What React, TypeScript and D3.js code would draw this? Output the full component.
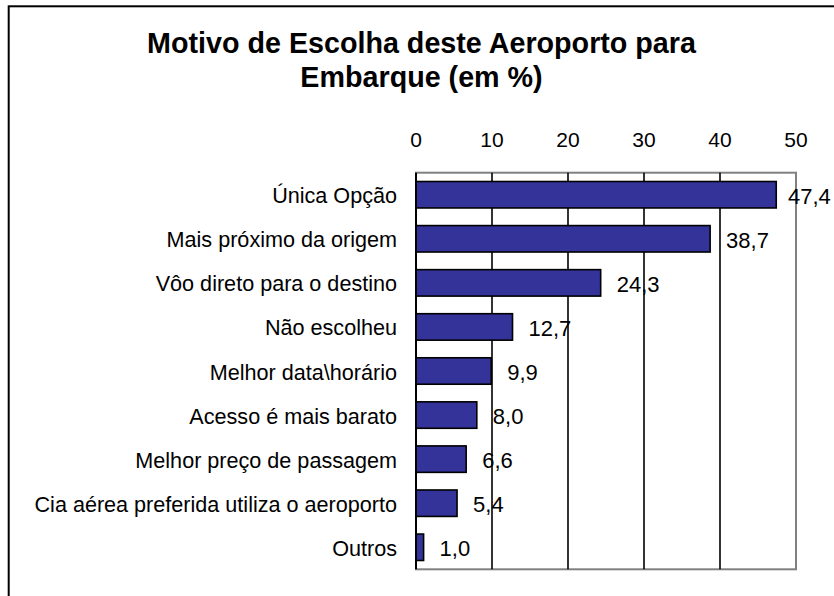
import React from "react";
import * as d3 from "d3";

const categories = [
  "Única Opção",
  "Mais próximo da origem",
  "Vôo direto para o destino",
  "Não escolheu",
  "Melhor data\\horário",
  "Acesso é mais barato",
  "Melhor preço de passagem",
  "Cia aérea preferida utiliza o aeroporto",
  "Outros",
];
const values = [47.4, 38.7, 24.3, 12.7, 9.9, 8.0, 6.6, 5.4, 1.0];
const ticks = [0, 10, 20, 30, 40, 50];
const titleLines = ["Motivo de Escolha deste Aeroporto para", "Embarque (em %)"];

const W = 834;
const H = 596;
const FONT = "Arial, 'Liberation Sans', sans-serif";

export default function App() {
  const plot = { left: 416, right: 796, top: 172.7, bottom: 569.3 };
  const x = d3.scaleLinear().domain([0, 50]).range([plot.left, plot.right]);
  const y = d3
    .scaleBand<string>()
    .domain(categories)
    .range([plot.top, plot.bottom])
    .paddingInner(0.4)
    .paddingOuter(0.2);
  const fmt = (v: number) => d3.format(".1f")(v).replace(".", ",");

  return (
    <svg
      width={W}
      height={H}
      style={{ position: "absolute", left: 0, top: 0, background: "#fff" }}
      fontFamily={FONT}
    >
      <rect x={0} y={0} width={W} height={H} fill="#fff" />
      <rect x={8.7} y={6.3} width={W + 50} height={H + 50} fill="none" stroke="#000" strokeWidth={2} />
      {titleLines.map((t, i) => (
        <text
          key={i}
          x={421.5}
          y={53.3 + i * 33.4}
          textAnchor="middle"
          fontSize={28.7}
          fontWeight="bold"
          fill="#000"
        >
          {t}
        </text>
      ))}
      {/* plot border (gray) */}
      <rect
        x={plot.left}
        y={plot.top}
        width={plot.right - plot.left}
        height={plot.bottom - plot.top}
        fill="#fff"
        stroke="#808080"
        strokeWidth={2}
      />
      {/* gridlines */}
      {ticks
        .filter((t) => t > 0 && t < 50)
        .map((t) => (
          <line
            key={t}
            x1={x(t)}
            x2={x(t)}
            y1={plot.top}
            y2={plot.bottom}
            stroke="#000"
            strokeWidth={1.6}
          />
        ))}
      {/* tick labels */}
      {ticks.map((t) => (
        <text key={t} x={x(t)} y={146.7} textAnchor="middle" fontSize={21} fill="#000">
          {t}
        </text>
      ))}
      {/* bars */}
      {categories.map((c, i) => (
        <rect
          key={c}
          x={x(0)}
          y={y(c)!}
          width={x(values[i]) - x(0)}
          height={y.bandwidth()}
          fill="#333399"
          stroke="#000"
          strokeWidth={1.6}
        />
      ))}
      {/* left axis */}
      <line x1={x(0)} x2={x(0)} y1={plot.top} y2={plot.bottom} stroke="#000" strokeWidth={2} />
      {/* category labels */}
      {categories.map((c) => (
        <text
          key={c}
          x={x(0) - 19}
          y={y(c)! + y.bandwidth() / 2 + 8.5}
          textAnchor="end"
          fontSize={21.6}
          fill="#000"
        >
          {c}
        </text>
      ))}
      {/* value labels */}
      {categories.map((c, i) => (
        <text
          key={c}
          x={Math.min(x(values[i]) + 16, W - 46)}
          y={y(c)! + y.bandwidth() / 2 + 9}
          textAnchor="start"
          fontSize={22}
          fill="#000"
        >
          {fmt(values[i])}
        </text>
      ))}
    </svg>
  );
}
